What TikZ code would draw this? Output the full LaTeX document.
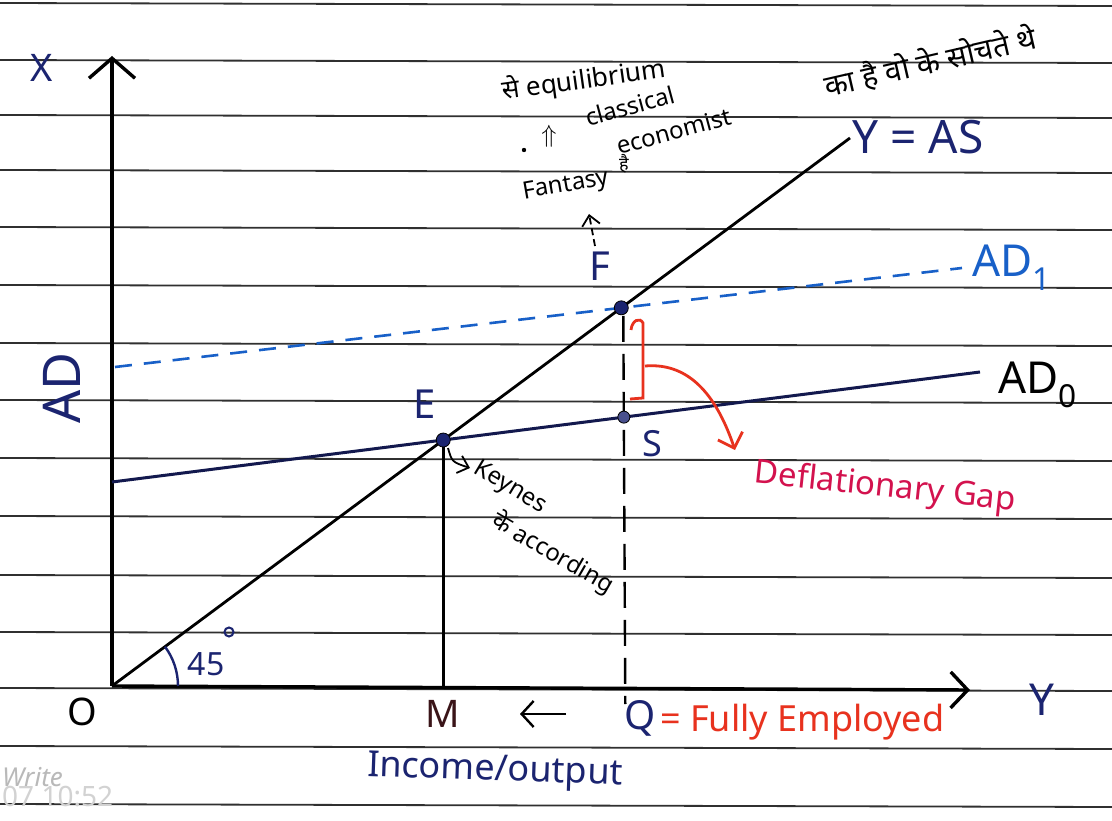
\documentclass[tikz,border=0pt]{standalone}
\usepackage{fontspec}
\setmainfont{Noto Sans}
\newfontfamily\hin[Script=Devanagari]{Noto Sans}
\usetikzlibrary{arrows.meta,calc,intersections}
\definecolor{navy}{HTML}{1B2470}
\definecolor{penblue}{HTML}{1860C8}
\definecolor{penred}{HTML}{E8321E}
\definecolor{crimson}{HTML}{D3124E}
\definecolor{maroon}{HTML}{3A1418}
\definecolor{rulecol}{HTML}{303030}
\newcommand\subdigit[1]{\raisebox{-0.32em}{\scalebox{0.72}{#1}}}
\newcommand\fs[1]{\fontsize{#1}{#1}\selectfont}
\begin{document}
\begin{tikzpicture}[x=1pt,y=-1pt,
  ruled/.style={draw=rulecol, line width=1.8pt},
  axisline/.style={draw=black, line width=3.4pt},
  curveline/.style={draw=black, line width=2.8pt},
  dotpt/.style={circle, fill=navy, draw=black, line width=0.8pt, inner sep=0pt, minimum size=14pt},
  lbl/.style={inner sep=0pt},
  note/.style={inner sep=0pt, font=\hin\fs{24}},
  barb/.style={-{Straight Barb[length=10pt,width=18pt]}},
]
\useasboundingbox (0,0) rectangle (1112,821);
\fill[white] (0,0) rectangle (1112,821);
% ruled notebook lines
\foreach \y in {3,60,115,170,227,285,343,400,458,516,575,632,688,746,804}
  \draw[ruled] (0,\y) -- (1112,\y+3);

% axes
\coordinate (O) at (112,686);
\coordinate (Ytop) at (112,56);
\coordinate (Xend) at (970,690);
\draw[axisline, -{Straight Barb[length=20pt,width=46pt]}] (O) -- (Ytop);
\draw[axisline, -{Straight Barb[length=17pt,width=36pt]}] (O) -- (Xend);

% curves
\coordinate (ASend) at (850,138);
\coordinate (AD0s) at (112,482);
\coordinate (AD0e) at (980,372);
\coordinate (AD1s) at (115,367);
\coordinate (AD1e) at (962,268);
\draw[curveline, name path=as] (O) -- (ASend);
\draw[draw=navy!70!black, line width=3pt, name path=ad0] (AD0s) -- (AD0e);
\draw[draw=penblue, line width=2.6pt, dash pattern=on 17pt off 12pt, name path=ad1] (AD1s) -- (AD1e);

\path[name intersections={of=as and ad0, by=E}];
\path[name intersections={of=as and ad1, by=F}];
\coordinate (M) at (E |- O);
\coordinate (Q) at ($(F |- Xend)+(4,0)$);
\coordinate (Qlow) at ($(Q)+(0,14)$);
\path[name path=vert] ($(F)+(2,0)$) -- (Qlow);
\path[name intersections={of=vert and ad0, by=S}];

\draw[curveline] (E) -- (M);
\draw[draw=black, line width=2.4pt, dash pattern=on 26pt off 12pt] ($(F)+(2,8)$) -- (Qlow);

\node[dotpt] (Edot) at (E) {};
\node[dotpt] (Fdot) at (F) {};
\node[dotpt, minimum size=12pt, fill=navy!80] (Sdot) at (S) {};

% 45 degree mark
\draw[draw=navy, line width=2.4pt] (178,686) arc[start angle=0, end angle=36.6, radius=66pt];
\node[lbl, text=navy, font=\fs{32}] (deg45) at (206,664) {45};
\draw[draw=navy, line width=2pt] (229,632) circle[radius=4.5pt];

% axis labels
\node[lbl, text=navy, font=\fs{38}] (Xl) at (42,68) {X};
\node[lbl, text=navy, font=\fs{44}] (Yl) at (1042,700) {Y};
\node[lbl, text=navy, font=\fs{52}, rotate=90] (ADl) at (62,388) {AD};
\node[lbl, text=black, font=\fs{38}] (Ol) at (82,712) {O};
\node[lbl, text=maroon, font=\fs{38}] (Ml) at (443,714) {M};
\node[lbl, text=navy, font=\fs{40}] (Ql) at (640,718) {Q};
\node[lbl, text=penred, font=\fs{36}, anchor=west] (FE) at (660,722) {= Fully Employed};
\coordinate (arrS) at (566,714);
\coordinate (arrE) at (520,714);
\draw[draw=black, line width=2.4pt, -{Straight Barb[length=12pt,width=26pt]}] (arrS) -- (arrE);
\node[lbl, text=navy, font=\fs{36}, rotate=-2] (inc) at (495,772) {Income/output};

% point labels
\node[lbl, text=navy, font=\fs{40}] (El) at (425,404) {E};
\node[lbl, text=navy, font=\fs{40}] (Fl) at (600,266) {F};
\node[lbl, text=navy, font=\fs{36}] (Sl) at (652,444) {S};

% curve labels
\node[lbl, text=navy, font=\fs{46}] (ASl) at (918,137) {Y = AS};
\node[lbl, text=penblue, font=\fs{44}, anchor=west] (AD1l) at (972,268) {AD\subdigit{1}};
\node[lbl, text=black, font=\fs{44}, anchor=west] (AD0l) at (998,385) {AD\subdigit{0}};

% deflationary gap
\draw[draw=penred, line width=2.8pt] (631,330) .. controls (632,320) and (640,317) .. (643,323) -- (643,398) -- (630,399);
\coordinate (gapS) at (645,366);
\coordinate (gapE) at (735,450);
\draw[draw=penred, line width=2.8pt, -{Straight Barb[length=13pt,width=26pt]}] (gapS) .. controls (692,362) and (718,400) .. (gapE);
\node[lbl, text=crimson, font=\fs{33}, rotate=-6] (gap) at (885,488) {Deflationary Gap};

% Keynes annotation
\coordinate (kS) at (448,448);
\coordinate (kE) at (470,468);
\draw[draw=black, line width=1.8pt, barb] (kS) .. controls (452,462) .. (kE);
\node[note, rotate=-31] (keyn) at (510,488) {Keynes};
\node[note, rotate=-30] (acc) at (553,553) {के according};

% classical notes
\node[note, font=\hin\fs{26}, rotate=8] (t1) at (584,80) {से equilibrium};
\node[note, rotate=15] (t2) at (630,106) {classical};
\node[note, rotate=15] (t3) at (674,131) {economist};
\node[note, rotate=13, font=\hin\fs{30}] (t4) at (930,62) {का है वो के सोचते थे};
\node[note, rotate=10] (t5) at (566,186) {Fantasy};
\node[note, font=\hin\fs{18}] (t6) at (624,164) {है};
\node[lbl, font=\fs{36}] (t7) at (549,136) {$\Uparrow$};
\fill[black] (524,150) circle[radius=2.2pt];
\coordinate (fS) at (595,246);
\coordinate (fE) at (589,214);
\draw[draw=black, line width=1.8pt, dash pattern=on 7pt off 4pt, barb] (fS) -- (fE);

% photo stamp
\node[lbl, text=gray!55, font=\bfseries\itshape\fs{26}, anchor=west] (stamp1) at (2,777) {Write};
\node[lbl, text=gray!35, font=\fs{28}, anchor=west] (stamp2) at (2,797) {07 10:52};
\end{tikzpicture}
\end{document}
